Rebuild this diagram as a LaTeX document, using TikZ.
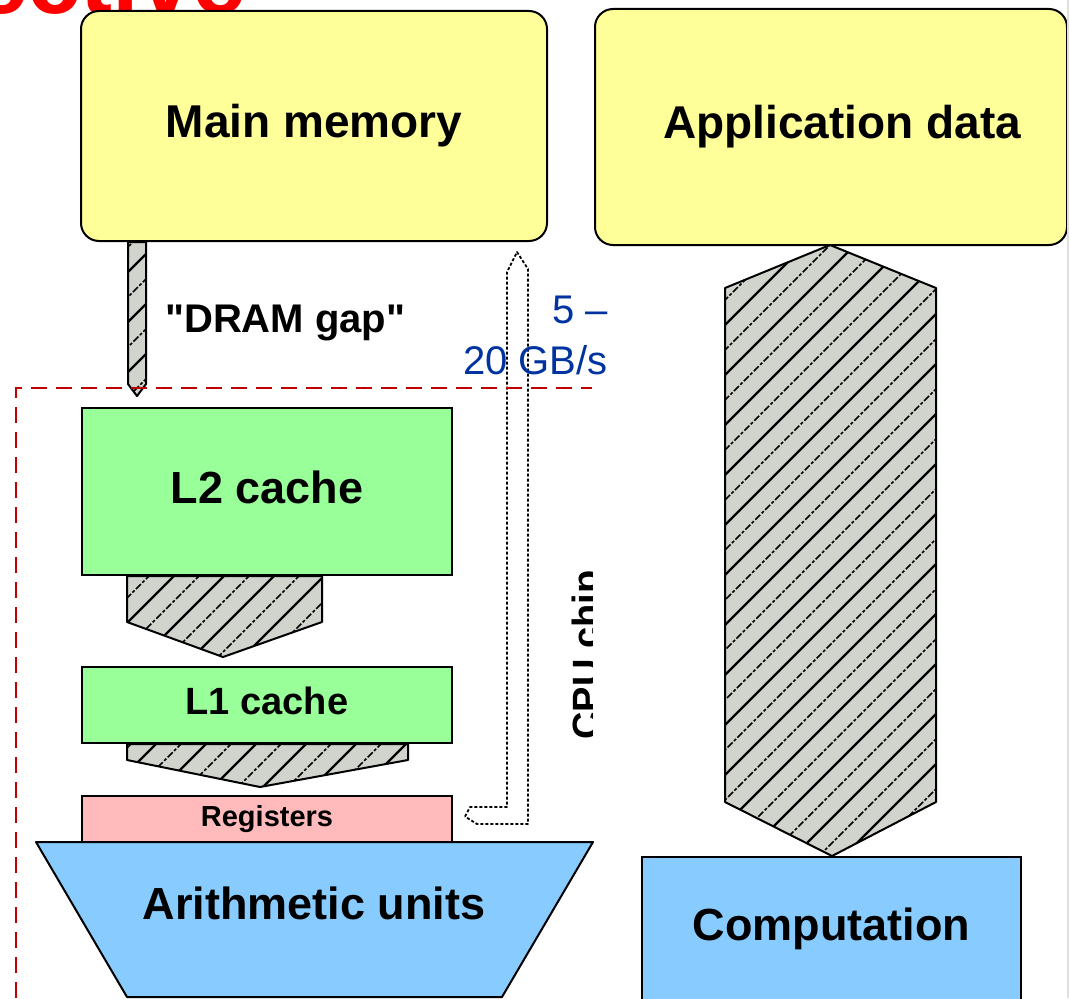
\documentclass[tikz,border=0pt]{standalone}
\usepackage{fontspec}
\setmainfont{Liberation Sans}[Ligatures=TeXOff]
\usepackage{tikz}
\usepackage{xcolor}

\definecolor{memyellow}{RGB}{255,255,153}
\definecolor{cachegreen}{RGB}{153,255,153}
\definecolor{regpink}{RGB}{255,187,187}
\definecolor{alublue}{RGB}{136,204,255}
\definecolor{hatchgray}{RGB}{208,212,204}
\definecolor{chipred}{RGB}{192,0,0}
\definecolor{rateblue}{RGB}{0,51,160}

\newcommand{\hatchshape}[1]{%
  \fill[hatchgray] #1;
  \begin{scope}
    \clip #1;
    \foreach \hpos in {0,50,...,2100} {
      \draw[line width=2.4pt] (\hpos,0) -- ++(-1100,1100);
      \draw[line width=1.5pt, dash pattern=on 7pt off 2pt on 3pt off 2pt] (\hpos+25,0) -- ++(-1100,1100);
    }
  \end{scope}
  \draw[line width=2pt, line join=round] #1;
}

\begin{document}
\begin{tikzpicture}[x=1pt, y=-1pt,
  box/.style={rectangle, draw=black, line width=2pt, anchor=north west, inner sep=0pt, font=\bfseries\fontsize{46}{50}\selectfont},
  flowline/.style={draw=black, line width=1.8pt, dash pattern=on 3pt off 2pt, line join=round},
  chipline/.style={draw=chipred, line width=2.5pt, dash pattern=on 16pt off 9pt}]

\useasboundingbox (0,0) rectangle (1070,998);
\begin{scope}
\clip (0,0) rectangle (1070,998);

\node[text=red, font=\bfseries\fontsize{96}{96}\selectfont, anchor=base west, inner sep=0pt] (title) at (-26,14) {ective};

\node[box, fill=memyellow, rounded corners=18pt, minimum width=466pt, minimum height=230pt] (mainmem) at (80,10) {Main memory};
\node[box, fill=memyellow, rounded corners=18pt, minimum width=472pt, minimum height=236pt] (appdata) at (594,8) {\hspace*{22pt}Application data};

\node[box, fill=cachegreen, minimum width=370pt, minimum height=167pt, font=\bfseries\fontsize{45}{50}\selectfont] (l2) at (81,407) {L2 cache\vphantom{p}};
\node[box, fill=cachegreen, minimum width=370pt, minimum height=76pt, font=\bfseries\fontsize{38}{40}\selectfont] (l1) at (81,666) {L1 cache\vphantom{p}};
\node[box, fill=regpink, minimum width=370pt, minimum height=47pt, font=\bfseries\fontsize{29}{30}\selectfont] (regs) at (81,795) {Registers};

\draw[fill=alublue, line width=2pt, line join=round] (36,842) -- (593,842) -- (502,997) -- (127,997) -- cycle;
\node[font=\bfseries\fontsize{45}{50}\selectfont] (alu) at (314,903) {Arithmetic units};

\node[box, fill=alublue, minimum width=379pt, minimum height=144pt, font=\bfseries\fontsize{45}{50}\selectfont] (comp) at (641,856) {Computation};

% hatched data paths
\hatchshape{([xshift=48pt]mainmem.south west) -- ([xshift=66pt]mainmem.south west) -- (146,384) -- (137,396) -- (128,384) -- cycle}
\hatchshape{([xshift=46pt]l2.south west) -- ([xshift=241pt]l2.south west) -- (322,622) -- ([xshift=142pt,yshift=9pt]l1.north west) -- (127,622) -- cycle}
\hatchshape{([xshift=46pt]l1.south west) -- ([xshift=327pt]l1.south west) -- (408,760) -- ([xshift=179pt,yshift=8pt]regs.north west) -- (127,760) -- cycle}
\hatchshape{([xshift=236pt,yshift=1pt]appdata.south west) -- (936,288) -- (936,802) -- ([xshift=191pt]comp.north west) -- (725,802) -- (725,288) -- cycle}

\coordinate (memin) at ([xshift=437pt,yshift=-10pt]mainmem.south west);
\draw[flowline] ([xshift=12pt,yshift=3pt]regs.east) -- (470,807) -- (507,807) -- (507,272) -- (memin) -- (528,269) -- (528,824) -- (477,824) -- cycle;

\begin{scope}
\clip (0,0) rectangle (592,998);
\draw[chipline] (16,998) -- (16,388) -- (592,388);
\node[rotate=90, anchor=base, inner sep=0pt, font=\bfseries\fontsize{38}{40}\selectfont] (chip) at (599,655) {CPU chip};
\end{scope}

\node[font=\bfseries\fontsize{40}{44}\selectfont, anchor=base west, inner sep=0pt] (gaplabel) at (165,332) {"DRAM gap"};
\node[text=rateblue, font=\fontsize{40}{44}\selectfont, anchor=base east, inner sep=0pt] (ratea) at (608,323) {5 –};
\node[text=rateblue, font=\fontsize{40}{44}\selectfont, anchor=base east, inner sep=0pt] (rateb) at (608,374) {20 GB/s};

\draw[gray!25, line width=2pt] (1068,0) -- (1068,998);
\end{scope}
\end{tikzpicture}
\end{document}
